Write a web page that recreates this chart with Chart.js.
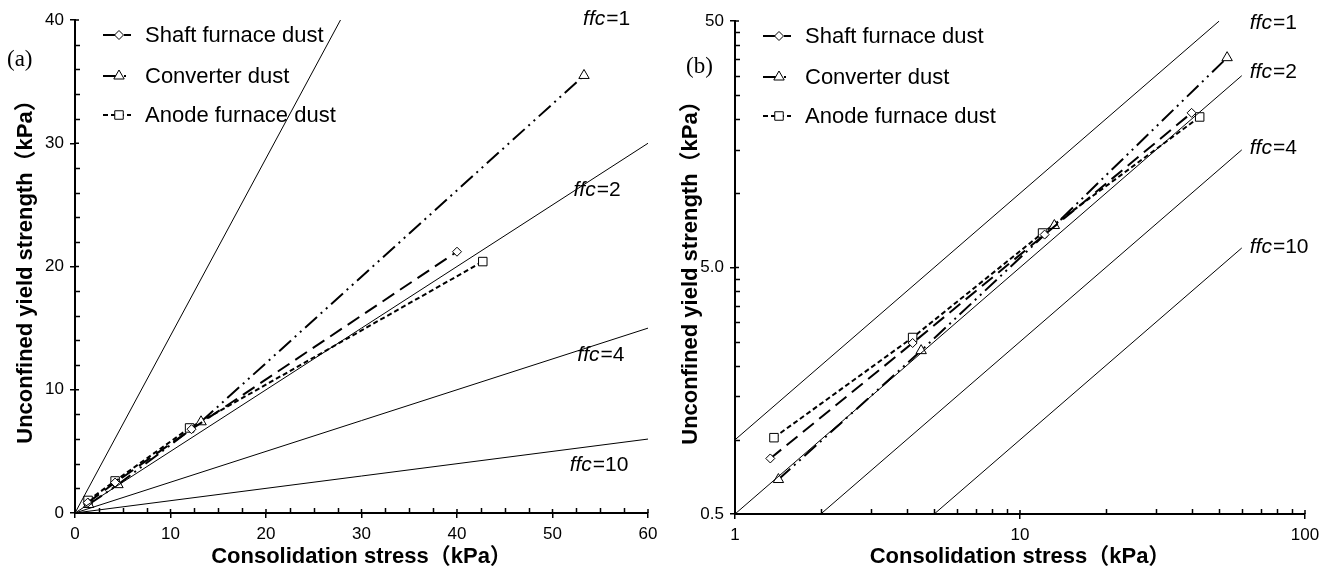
<!DOCTYPE html>
<html>
<head>
<meta charset="utf-8">
<script src="https://cdn.jsdelivr.net/npm/chart.js@4.4.1/dist/chart.umd.min.js"></script>
<style>
  body { margin: 0; background: #fff; width: 1330px; height: 575px; overflow: hidden; position: relative; }
  canvas { position: absolute; top: 0; }
  #chartA { left: 0; }
  #chartB { left: 665px; }
</style>
</head>
<body>
<canvas id="chartA" width="665" height="575"></canvas>
<canvas id="chartB" width="665" height="575"></canvas>
<script>
// series (consolidation stress, unconfined yield strength), kPa
const seriesNames = ['Shaft furnace dust', 'Converter dust', 'Anode furnace dust'];
const shaftStress = [1.33, 4.2, 12.2, 40.0];
const shaftStrength = [0.84, 2.47, 6.8, 21.2];
const converterStress = [1.42, 4.5, 13.2, 53.3];
const converterStrength = [0.69, 2.3, 7.4, 35.5];
const anodeStress = [1.37, 4.2, 12.0, 42.7];
const anodeStrength = [1.02, 2.6, 6.9, 20.4];

// flow function (ffc) reference lines, start/end points as drawn
const ffcValues = [1, 2, 4, 10];
const ffcLinStart = [[0, 0], [0, 0], [0, 0], [0, 0]];
const ffcLinEnd = [[27.8, 40], [60, 30], [60, 15], [60, 6]];
const ffcLogStart = [[1, 1], [1, 0.5], [2, 0.5], [5, 0.5]];
const ffcLogEnd = [[50, 50], [60, 30], [60, 15], [60, 6]];

// ticks
const linXTicks = [0, 10, 20, 30, 40, 50, 60];
const linYTicks = [0, 10, 20, 30, 40];
const logXTicks = [1, 10, 100];
const logXTickLabels = ['1', '10', '100'];
const logYTicks = [0.5, 5, 50];
const logYTickLabels = ['0.5', '5.0', '50'];
const linXMinor = [2.5, 5, 7.5, 12.5, 15, 17.5, 22.5, 25, 27.5, 32.5, 35, 37.5, 42.5, 45, 47.5, 52.5, 55, 57.5];
const linYMinor = [2, 4, 6, 8, 12, 14, 16, 18, 22, 24, 26, 28, 32, 34, 36, 38];
const logXMinor = [2, 3, 4, 5, 6, 7, 8, 9, 20, 30, 40, 50, 60, 70, 80, 90];
const logYMinor = [1, 1.5, 2, 2.5, 3, 3.5, 4, 4.5, 10, 15, 20, 25, 30, 35, 40, 45];

const FONT = '"Liberation Sans", Arial, "Noto Sans CJK SC", sans-serif';
const styles = [
  { dash: [14, 7], pointStyle: 'rectRot', radius: 4.5 },
  { dash: [16, 5, 2, 5, 2, 5], pointStyle: 'triangle', radius: 6 },
  { dash: [5, 3], pointStyle: 'rect', radius: 6 },
];

function pts(xs, ys) {
  return xs.map((x, i) => ({ x, y: ys[i] }));
}

// minor ticks (inward) plus inner half of major ticks
const minorTicks = {
  id: 'minorTicks',
  afterDraw(chart, args, opts) {
    const { ctx } = chart;
    const xs = chart.scales.x;
    const ys = chart.scales.y;
    ctx.save();
    ctx.strokeStyle = '#000';
    ctx.lineWidth = 1.5;
    ctx.beginPath();
    opts.x.forEach((v) => {
      const p = Math.round(xs.getPixelForValue(v)) + 0.5;
      ctx.moveTo(p, xs.top);
      ctx.lineTo(p, xs.top - 5);
    });
    opts.y.forEach((v) => {
      const p = Math.round(ys.getPixelForValue(v)) + 0.5;
      ctx.moveTo(ys.right, p);
      ctx.lineTo(ys.right + 5, p);
    });
    xs.ticks.forEach((t) => {
      const p = xs.getPixelForValue(t.value);
      ctx.moveTo(p, xs.top);
      ctx.lineTo(p, xs.top - 4);
    });
    ys.ticks.forEach((t) => {
      const p = ys.getPixelForValue(t.value);
      ctx.moveTo(ys.right, p);
      ctx.lineTo(ys.right + 4, p);
    });
    ctx.stroke();
    ctx.restore();
  },
};

// legend: dashed line sample with marker, then label
const lineLegend = {
  id: 'lineLegend',
  afterDraw(chart, args, opts) {
    const { ctx, chartArea } = chart;
    const x0 = chartArea.left + opts.dx;
    ctx.save();
    chart.data.datasets.filter(d => d.label).forEach((d, i) => {
      const y = chartArea.top + opts.dy[i];
      ctx.strokeStyle = '#000';
      ctx.lineWidth = 2;
      ctx.setLineDash(d.borderDash);
      ctx.beginPath();
      ctx.moveTo(x0, y);
      ctx.lineTo(x0 + 28, y);
      ctx.stroke();
      ctx.setLineDash([]);
      ctx.fillStyle = '#fff';
      ctx.lineWidth = 1;
      Chart.helpers.drawPoint(ctx, { pointStyle: d.pointStyle, radius: d.pointRadius, borderWidth: 1, rotation: 0 }, x0 + 16, y);
      ctx.fillStyle = '#000';
      ctx.font = '22px ' + FONT;
      ctx.textBaseline = 'middle';
      ctx.textAlign = 'left';
      ctx.fillText(d.label, x0 + 42, y + 1);
    });
    ctx.restore();
  },
};

// "ffc=n" labels and panel letter
const ffcLabels = {
  id: 'ffcLabels',
  afterDraw(chart, args, opts) {
    const { ctx } = chart;
    const xs = chart.scales.x;
    const ys = chart.scales.y;
    ctx.save();
    ctx.fillStyle = '#000';
    ctx.textBaseline = 'middle';
    ctx.textAlign = 'left';
    ffcValues.forEach((f, i) => {
      const px = xs.getPixelForValue(opts.at[i][0]);
      const py = ys.getPixelForValue(opts.at[i][1]);
      ctx.font = 'italic 21px ' + FONT;
      ctx.fillText('ffc', px, py);
      const w = ctx.measureText('ffc').width;
      ctx.font = '21px ' + FONT;
      ctx.fillText('=' + f, px + w + 1, py);
    });
    ctx.font = '23px "Liberation Serif", "Times New Roman", serif';
    ctx.fillText(opts.panel, opts.panelPos[0], opts.panelPos[1]);
    ctx.restore();
  },
};

function makeChart(id, cfg) {
  const datasets = [];
  ffcValues.forEach((f, i) => {
    datasets.push({
      data: [{ x: cfg.ffcStart[i][0], y: cfg.ffcStart[i][1] }, { x: cfg.ffcEnd[i][0], y: cfg.ffcEnd[i][1] }],
      borderColor: '#000',
      borderWidth: 1,
      pointRadius: 0,
      showLine: true,
    });
  });
  const series = [[shaftStress, shaftStrength], [converterStress, converterStrength], [anodeStress, anodeStrength]];
  series.forEach((s, i) => {
    datasets.push({
      label: seriesNames[i],
      data: pts(s[0], s[1]),
      showLine: true,
      borderColor: '#000',
      borderWidth: 2,
      borderDash: styles[i].dash,
      pointStyle: styles[i].pointStyle,
      pointRadius: styles[i].radius,
      pointBackgroundColor: '#fff',
      pointBorderColor: '#000',
      pointBorderWidth: 1,
    });
  });

  const axis = (type, min, max, ticks, labels, title, fit) => ({
    type,
    min,
    max,
    afterBuildTicks: (s) => { s.ticks = ticks.map(v => ({ value: v })); },
    afterFit: fit,
    ticks: {
      color: '#000',
      font: { family: FONT, size: 17 },
      autoSkip: false,
      maxRotation: 0,
      padding: 6,
      callback: (v, i) => labels[i],
    },
    grid: { drawOnChartArea: false, color: '#000', lineWidth: 1.5, tickLength: 5 },
    border: { color: '#000', width: 2 },
    title: {
      display: true,
      text: title,
      color: '#000',
      font: { family: FONT, size: 22, weight: 'bold' },
      padding: { top: 13, bottom: 5 },
    },
  });

  return new Chart(document.getElementById(id).getContext('2d'), {
    type: 'scatter',
    data: { datasets },
    options: {
      responsive: false,
      animation: false,
      events: [],
      layout: { padding: cfg.padding },
      scales: {
        x: axis(cfg.xType, cfg.xMin, cfg.xMax, cfg.xTicks, cfg.xLabels, 'Consolidation stress（kPa）', (s) => { s.height = cfg.xHeight; }),
        y: axis(cfg.yType, cfg.yMin, cfg.yMax, cfg.yTicks, cfg.yLabels, 'Unconfined yield strength（kPa）', (s) => { s.width = cfg.yWidth; }),
      },
      plugins: {
        legend: { display: false },
        tooltip: { enabled: false },
        minorTicks: { x: cfg.xMinor, y: cfg.yMinor },
        lineLegend: { dx: 28, dy: [15, 56, 95] },
        ffcLabels: { at: cfg.labelAt, panel: cfg.panel, panelPos: cfg.panelPos },
      },
    },
    plugins: [minorTicks, lineLegend, ffcLabels],
  });
}

makeChart('chartA', {
  xType: 'linear', xMin: 0, xMax: 60, xTicks: linXTicks, xLabels: linXTicks.map(String), xMinor: linXMinor,
  yType: 'linear', yMin: 0, yMax: 40, yTicks: linYTicks, yLabels: linYTicks.map(String), yMinor: linYMinor,
  ffcStart: ffcLinStart, ffcEnd: ffcLinEnd,
  labelAt: [[53.2, 40.1], [52.2, 26.2], [52.6, 12.8], [51.8, 3.9]],
  padding: { left: 0, right: 17, top: 20, bottom: 0 }, yWidth: 75, xHeight: 62,
  panel: '(a)', panelPos: [7, 60],
});

makeChart('chartB', {
  xType: 'logarithmic', xMin: 1, xMax: 100, xTicks: logXTicks, xLabels: logXTickLabels, xMinor: logXMinor,
  yType: 'logarithmic', yMin: 0.5, yMax: 50, yTicks: logYTicks, yLabels: logYTickLabels, yMinor: logYMinor,
  ffcStart: ffcLogStart, ffcEnd: ffcLogEnd,
  labelAt: [[64, 49.1], [64, 31], [64, 15.3], [64, 6.06]],
  padding: { left: 0, right: 25, top: 21, bottom: 0 }, yWidth: 70, xHeight: 61,
  panel: '(b)', panelPos: [21, 67],
});
</script>
</body>
</html>
